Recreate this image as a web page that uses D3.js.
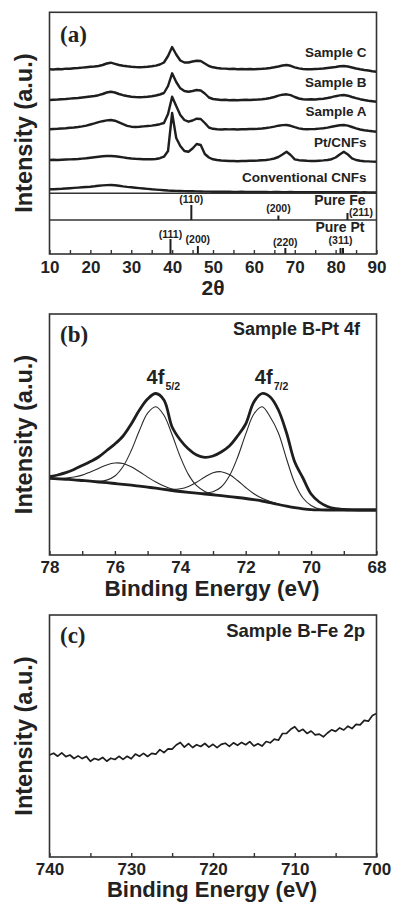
<!DOCTYPE html>
<html>
<head>
<meta charset="utf-8">
<script src="https://cdn.jsdelivr.net/npm/d3@7"></script>
<style>
  html, body { margin: 0; padding: 0; background: #fff; }
  svg { display: block; }
  text { font-family: "Liberation Sans", Arial, sans-serif; font-weight: bold; fill: #222; }
  .tag { font-family: "Liberation Serif", "Times New Roman", serif; }
</style>
</head>
<body>
<div id="chart"></div>
<script>
// ---------- (a) XRD, 2theta grid 10..90 step 1, stacked intensities (a.u.)
var twoTheta = d3.range(10, 91, 1);

var sampleC = [184.7,184.5,185.0,184.8,185.4,185.2,185.8,186.0,186.4,186.8,
  187.2,187.5,188.0,189.0,190.5,191.3,190.2,189.0,188.2,187.7,
  187.3,187.0,186.8,187.0,187.3,187.8,188.4,189.5,191.5,198.0,
  207.0,199.5,193.5,191.5,191.5,192.5,193.3,193.0,190.5,188.0,
  186.7,186.0,185.5,185.4,185.0,185.2,184.8,185.0,184.7,185.0,
  184.8,185.0,185.2,185.5,186.0,186.7,187.5,188.5,189.0,188.2,
  186.7,185.6,185.0,184.8,184.7,185.0,185.2,185.5,186.0,186.5,
  187.0,187.7,188.0,187.5,186.5,185.5,184.7,184.0,183.5,182.8,
  182.3];

var sampleB = [154.0,154.3,154.5,154.8,155.0,155.4,155.8,156.0,156.5,157.0,
  157.5,158.0,158.8,160.0,161.5,162.3,161.5,160.0,158.8,158.0,
  157.3,157.0,156.8,157.0,157.3,157.8,158.5,159.5,161.0,168.0,
  180.7,172.0,165.7,163.0,162.3,163.0,164.0,163.5,160.5,156.5,
  155.0,154.5,154.0,154.2,153.8,154.0,153.8,154.0,154.2,154.0,
  154.3,154.5,154.8,155.2,156.0,157.0,158.3,159.3,159.7,158.8,
  157.0,155.5,154.8,154.5,154.7,154.5,155.0,155.3,156.0,156.8,
  157.8,158.6,159.0,158.3,157.0,155.8,154.8,154.0,153.3,152.8,
  152.3];

var sampleA = [124.7,125.0,125.2,125.5,125.8,126.2,126.5,127.0,127.6,128.4,
  129.5,130.6,131.8,132.8,133.6,134.0,133.3,131.6,129.8,128.2,
  127.3,127.0,127.2,127.6,128.0,128.4,129.0,129.8,131.0,140.0,
  157.3,148.0,139.0,134.0,132.3,133.5,135.3,135.0,131.0,126.5,
  125.2,124.7,124.5,124.8,124.6,124.7,124.5,124.8,124.7,125.0,
  125.0,125.2,125.5,126.0,126.6,127.4,128.3,128.9,129.0,128.2,
  126.8,125.6,125.0,124.8,124.9,125.0,125.4,125.8,126.4,127.2,
  128.0,128.7,129.0,128.4,127.0,125.6,124.5,123.8,123.2,122.7,
  122.3];

var ptCNFs = [94.0,94.2,94.0,94.3,94.5,94.6,94.8,95.0,95.4,95.8,
  96.3,96.8,97.3,97.8,98.0,98.0,97.7,97.2,96.6,96.0,
  95.5,95.2,95.0,94.8,94.7,94.7,95.0,95.8,97.3,103.0,
  141.0,116.0,108.0,103.0,102.3,105.5,110.0,109.0,100.0,96.5,
  94.7,94.0,93.5,93.3,93.0,93.0,92.8,93.0,93.0,93.2,
  93.3,93.5,93.8,94.0,94.6,95.5,97.0,99.5,102.3,99.0,
  94.7,93.8,93.5,93.2,93.0,93.0,93.3,93.6,94.0,94.8,
  96.5,99.5,102.3,99.5,95.7,94.0,93.3,92.8,92.6,92.4,
  92.3];

var convCNFs = [64.7,64.8,65.0,65.2,65.5,65.8,66.1,66.4,66.7,67.0,
  67.3,67.7,68.2,68.6,68.9,69.0,68.8,68.2,67.6,67.1,
  66.7,66.3,65.9,65.5,65.1,64.7,64.4,64.1,63.8,63.5,
  63.3,63.1,63.0,62.9,62.8,62.7,62.6,62.5,62.4,62.4,
  62.3,62.3,62.2,62.2,62.2,62.1,62.1,62.2,62.1,62.0,
  62.0,62.1,62.0,62.0,61.9,62.0,62.0,61.9,61.9,62.0,
  61.9,61.9,61.8,61.9,61.8,61.8,61.9,61.8,61.8,61.7,
  61.8,61.7,61.7,61.8,61.7,61.7,61.6,61.7,61.6,61.6,
  61.6];

var xrdSeries = [sampleC, sampleB, sampleA, ptCNFs, convCNFs];
var xrdNames = ["Sample C", "Sample B", "Sample A", "Pt/CNFs", "Conventional CNFs"];

// reference patterns (stick positions in 2theta, relative heights)
var feLevel = 34, ptLevel = 0, cnfLevel = 60.7;
var feHkl = ["(110)", "(200)", "(211)"];
var fePos = [44.7, 66.0, 82.9];
var feHeight = [15, 4.5, 7];
var ptHkl = ["(111)", "(200)", "(220)", "(311)", ""];
var ptPos = [39.6, 46.3, 67.7, 81.2, 81.8];
var ptHeight = [15, 8, 6, 6, 6];

var xrdTicks = d3.range(10, 91, 5);
var xrdTickLabels = [10, 20, 30, 40, 50, 60, 70, 80, 90];

// ---------- (b) Pt 4f XPS, binding energy 78 -> 68 step 0.25
var bePt = d3.range(78, 67.9, -0.25);
var ptEnvelope = [78.3,80.0,82.3,85.5,89.5,93.5,98.0,104.5,111.0,119.0,
  131.0,145.0,156.0,161.5,155.0,128.0,115.0,106.0,100.0,97.7,
  99.0,103.0,109.0,119.0,131.0,153.0,161.5,158.0,145.0,122.0,
  93.0,77.0,61.0,53.0,48.5,46.3,45.5,45.1,45.0,45.0,
  45.0];
var ptBackground = [76.7,76.2,75.7,75.2,74.5,73.8,73.0,72.3,71.5,70.7,
  69.8,68.8,67.8,66.8,65.7,64.5,63.5,62.6,61.8,61.0,
  60.2,59.3,58.4,57.5,56.5,55.3,54.0,52.3,50.5,48.8,
  47.3,46.2,45.4,45.1,45.0,45.0,45.0,45.0,45.0,45.0,
  45.0];
var pt4f52 = [76.7,76.2,75.7,75.2,74.6,74.0,73.8,74.9,79.0,88.5,
  104.4,124.5,141.8,148.3,139.7,120.2,98.1,80.4,69.3,63.6,
  61.0,59.5,58.4,57.5,56.5,55.3,54.0,52.3,50.5,48.8,
  47.3,46.2,45.4,45.1,45.0,45.0,45.0,45.0,45.0,45.0,
  45.0];
var pt4f72 = [76.7,76.2,75.7,75.2,74.5,73.8,73.0,72.3,71.5,70.7,
  69.8,68.8,67.8,66.8,65.7,64.5,63.5,62.6,62.0,61.9,
  63.3,68.0,79.0,97.5,120.9,141.0,148.3,138.0,122.0,96.0,
  72.0,57.0,49.5,46.0,45.2,45.0,45.0,45.0,45.0,45.0,
  45.0];
var ptSat1 = [76.9,76.7,77.0,78.0,79.9,83.1,86.5,90.1,92.0,91.5,
  88.2,83.3,77.9,73.0,69.0,66.0,64.1,62.8,61.9,61.1,
  60.3,59.3,58.4,57.5,56.5,55.3,54.0,52.3,50.5,48.8,
  47.3,46.2,45.4,45.1,45.0,45.0,45.0,45.0,45.0,45.0,
  45.0];
var ptSat2 = [76.7,76.2,75.7,75.2,74.5,73.8,73.0,72.3,71.5,70.7,
  69.8,68.8,67.8,66.9,66.1,65.6,66.2,68.6,72.8,78.0,
  82.2,83.3,80.4,74.5,67.5,61.3,56.7,53.4,50.9,48.9,
  47.3,46.2,45.4,45.1,45.0,45.0,45.0,45.0,45.0,45.0,
  45.0];
var ptTicks = d3.range(78, 67.9, -1);
var ptTickLabels = [78, 76, 74, 72, 70, 68];

// ---------- (c) Fe 2p XPS, binding energy 740 -> 700 step 0.5
var beFe = d3.range(740, 699.9, -0.5);
var fe2p = [102.0,103.8,100.8,104.2,100.4,102.0,98.5,101.1,98.4,100.6,
  95.7,98.5,97.1,99.6,95.8,98.8,97.5,100.7,97.6,100.7,
  98.2,102.9,100.7,103.6,100.5,103.6,102.8,107.4,104.4,108.2,
  107.9,112.0,114.5,109.9,113.4,109.5,112.3,110.5,113.5,109.9,
  112.7,109.3,112.6,113.8,110.6,114.2,111.7,114.6,112.3,115.4,
  111.0,113.3,110.9,115.5,114.2,117.9,116.8,123.5,123.6,127.7,
  130.3,125.5,127.7,123.6,126.0,122.1,122.9,120.2,124.0,127.2,
  125.6,129.1,127.0,130.8,128.4,132.7,132.2,136.6,135.8,141.5,
  143.5];
var feTicks = d3.range(740, 699, -5);
var feTickLabels = [740, 730, 720, 710, 700];

// ---------- layout
var width = 393, height = 902;
var left = 49.5, right = 376.5;
var ink = "#1e1e1e";

var svg = d3.select("#chart").append("svg")
  .attr("width", width)
  .attr("height", height);

var xA = d3.scaleLinear().domain([10, 90]).range([left, right]);
var yA = d3.scaleLinear().domain([0, 241.7]).range([254, 12.3]);
var xB = d3.scaleLinear().domain([78, 68]).range([left, right]);
var yB = d3.scaleLinear().domain([0, 241]).range([555, 314]);
var xC = d3.scaleLinear().domain([740, 700]).range([left, right]);
var yC = d3.scaleLinear().domain([0, 242]).range([857, 615]);

function frame(top, bottom) {
  svg.append("rect")
    .attr("x", left).attr("y", top)
    .attr("width", right - left).attr("height", bottom - top)
    .attr("fill", "none").attr("stroke", "#333").attr("stroke-width", 1.6);
}

function bottomAxis(x, y0, ticks, labels, pad) {
  var ax = d3.axisBottom(x)
    .tickValues(ticks)
    .tickSize(-4)
    .tickPadding(pad)
    .tickFormat(d => labels.indexOf(d) >= 0 ? d : "");
  var g = svg.append("g")
    .attr("transform", `translate(0, ${y0})`)
    .call(ax);
  g.select(".domain").remove();
  g.selectAll("line").attr("stroke", "#333").attr("stroke-width", 1.4);
  g.selectAll("text")
    .attr("fill", "#222")
    .style("font-family", '"Liberation Sans", Arial, sans-serif')
    .style("font-weight", "bold")
    .style("font-size", "17px");
}

function yTitle(top, bottom) {
  svg.append("text")
    .attr("transform", `translate(31.5, ${(top + bottom) / 2}) rotate(-90)`)
    .attr("text-anchor", "middle")
    .style("font-size", "23.5px")
    .text("Intensity (a.u.)");
}

function xTitle(y, txt, size) {
  svg.append("text")
    .attr("x", (left + right) / 2 - 1)
    .attr("y", y)
    .attr("text-anchor", "middle")
    .style("font-size", size)
    .text(txt);
}

function tag(y, txt) {
  svg.append("text")
    .attr("class", "tag")
    .attr("x", 60).attr("y", y)
    .style("font-size", "23px")
    .text(txt);
}

/* ===== panel (a) ===== */
var lineA = d3.line()
  .x((d, i) => xA(twoTheta[i]))
  .y(d => yA(d));

svg.append("g").selectAll("path")
  .data(xrdSeries).enter()
  .append("path")
  .attr("d", d => lineA(d))
  .attr("fill", "none")
  .attr("stroke", ink)
  .attr("stroke-width", 2.4)
  .attr("stroke-linejoin", "round");

// separators between CNF / Fe / Pt reference rows
[cnfLevel, feLevel].forEach(function (lv) {
  svg.append("line")
    .attr("x1", left).attr("x2", right)
    .attr("y1", yA(lv)).attr("y2", yA(lv))
    .attr("stroke", "#333").attr("stroke-width", 1.5);
});

// how far each hkl label sits above its stick top
var labelLift = {"(110)": 1.7, "(200)": 3.5, "(111)": 1.5, "(220)": 2, "(311)": 4};

function sticks(pos, hgt, hkl, base) {
  var g = svg.append("g");
  g.selectAll("line")
    .data(pos).enter()
    .append("line")
    .attr("x1", d => xA(d)).attr("x2", d => xA(d))
    .attr("y1", yA(base))
    .attr("y2", (d, i) => yA(base + hgt[i]))
    .attr("stroke", ink).attr("stroke-width", 2);
  g.selectAll("text")
    .data(pos).enter()
    .append("text")
    .attr("x", (d, i) => hkl[i] === "(211)" ? xA(d) + 1.5 : xA(d))
    .attr("y", (d, i) => hkl[i] === "(211)" ? yA(base + 4)
                                            : yA(base + hgt[i] + (labelLift[hkl[i]] || 2)))
    .attr("text-anchor", (d, i) => hkl[i] === "(211)" ? "start" : "middle")
    .style("font-size", "10.5px")
    .text((d, i) => hkl[i]);
}
sticks(fePos, feHeight, feHkl, feLevel);
sticks(ptPos, ptHeight, ptHkl, ptLevel);

var labelYA = [56.7, 86.7, 116, 146.7, 181.7];
svg.append("g").selectAll("text")
  .data(xrdNames).enter()
  .append("text")
  .attr("x", right - 10)
  .attr("y", (d, i) => labelYA[i])
  .attr("text-anchor", "end")
  .style("font-size", "13.5px")
  .text(d => d);

svg.append("text").attr("x", right - 11).attr("y", 204.5)
  .attr("text-anchor", "end").style("font-size", "14px").text("Pure Fe");
svg.append("text").attr("x", right - 12).attr("y", 231.5)
  .attr("text-anchor", "end").style("font-size", "14px").text("Pure Pt");

frame(12.3, 254);
bottomAxis(xA, 254, xrdTicks, xrdTickLabels, 6.5);
yTitle(12.3, 254);
tag(41.7, "(a)");
svg.append("text")
  .attr("x", (left + right) / 2)
  .attr("y", 294.5)
  .attr("text-anchor", "middle")
  .style("font-size", "21px")
  .text("2\u03B8");

/* ===== panel (b) ===== */
var lineB = d3.line()
  .x((d, i) => xB(bePt[i]))
  .y(d => yB(d))
  .curve(d3.curveCatmullRom);

var thinB = [pt4f52, pt4f72, ptSat1, ptSat2];
svg.append("g").selectAll("path")
  .data(thinB).enter()
  .append("path")
  .attr("d", d => lineB(d))
  .attr("fill", "none")
  .attr("stroke", "#2a2a2a")
  .attr("stroke-width", 1.1);

svg.append("g").selectAll("path")
  .data([ptBackground, ptEnvelope]).enter()
  .append("path")
  .attr("d", d => lineB(d))
  .attr("fill", "none")
  .attr("stroke", ink)
  .attr("stroke-width", 2.8);

frame(314, 555);
bottomAxis(xB, 555, ptTicks, ptTickLabels, 6);
yTitle(314, 555);
tag(342.3, "(b)");
xTitle(596, "Binding Energy (eV)", "22.5px");

svg.append("text")
  .attr("x", 360).attr("y", 335)
  .attr("text-anchor", "end")
  .style("font-size", "18px")
  .text("Sample B-Pt 4f");

function orbital(be, sub) {
  var t = svg.append("text")
    .attr("x", xB(be)).attr("y", yB(170.7))
    .style("font-size", "20px")
    .text("4f");
  t.append("tspan")
    .attr("dy", 6)
    .attr("dx", 1)
    .style("font-size", "10.5px")
    .text(sub);
}
orbital(75.03, "5/2");
orbital(71.72, "7/2");

/* ===== panel (c) ===== */
var lineC = d3.line()
  .x((d, i) => xC(beFe[i]))
  .y(d => yC(d));

svg.append("path")
  .datum(fe2p)
  .attr("d", lineC)
  .attr("fill", "none")
  .attr("stroke", ink)
  .attr("stroke-width", 1.7)
  .attr("stroke-linejoin", "round");

frame(615, 857);
bottomAxis(xC, 857, feTicks, feTickLabels, 5.5);
yTitle(615, 857);
tag(643.3, "(c)");
xTitle(897, "Binding Energy (eV)", "22px");

svg.append("text")
  .attr("x", 365).attr("y", 636.7)
  .attr("text-anchor", "end")
  .style("font-size", "18.5px")
  .text("Sample B-Fe 2p");
</script>
</body>
</html>
